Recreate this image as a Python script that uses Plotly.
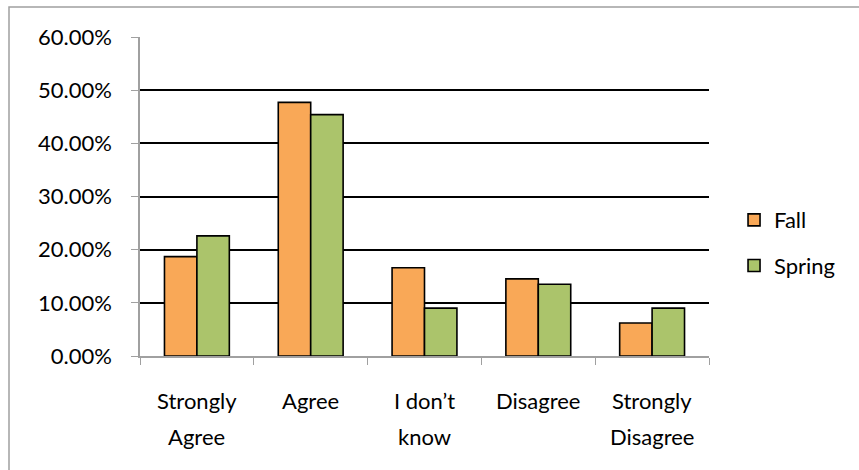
import plotly.graph_objects as go

# Survey responses, share of respondents per answer
categories = ["Strongly\nAgree", "Agree", "I don’t\nknow", "Disagree", "Strongly\nDisagree"]
fall = [0.187, 0.477, 0.166, 0.145, 0.062]
spring = [0.226, 0.454, 0.090, 0.135, 0.090]
y_ticks = [0.0, 0.1, 0.2, 0.3, 0.4, 0.5, 0.6]

FONT = "Lato"
FONT_SIZE = 22
FALL_COLOR = "#F9A857"
SPRING_COLOR = "#ABC46B"

cat_keys = [c.replace("\n", " ") for c in categories]

fig = go.Figure()
fig.add_trace(go.Bar(
    x=cat_keys, y=fall, name="Fall", legendgroup="fall",
    marker=dict(color=FALL_COLOR, line=dict(color="black", width=1.6)),
))
fig.add_trace(go.Bar(
    x=cat_keys, y=spring, name="Spring", legendgroup="spring",
    marker=dict(color=SPRING_COLOR, line=dict(color="black", width=1.6)),
))

# Category labels, one line per annotation for wider line spacing
for key, label in zip(cat_keys, categories):
    for i, line in enumerate(label.split("\n")):
        fig.add_annotation(
            x=key, y=0, xref="x", yref="paper",
            text=line, showarrow=False,
            yanchor="middle", yshift=-44 - 36 * i,
            font=dict(family=FONT, size=FONT_SIZE, color="black"),
        )

# Outer chart frame
fig.add_shape(
    type="rect", xref="paper", yref="paper",
    x0=(9 - 140) / 569, x1=(880 - 140) / 569,
    y0=-(490 - 356) / 319, y1=1 + (37 - 7) / 319,
    line=dict(color="#A0A0A0", width=1.5), fillcolor="rgba(0,0,0,0)",
    layer="below",
)

fig.update_layout(
    width=859, height=470,
    margin=dict(l=140, r=150, t=37, b=114),
    paper_bgcolor="white", plot_bgcolor="white",
    barmode="group", bargap=0.43, bargroupgap=0.0,
    font=dict(family=FONT, size=FONT_SIZE, color="black"),
    legend=dict(
        x=1.044, y=0.492, xanchor="left", yanchor="top",
        font=dict(family=FONT, size=FONT_SIZE, color="black"),
        tracegroupgap=14, bgcolor="rgba(0,0,0,0)",
    ),
    xaxis=dict(
        type="category", showticklabels=False,
        tickson="boundaries", ticks="outside", ticklen=7,
        tickcolor="#A0A0A0", showline=True, linecolor="#A0A0A0", linewidth=1.5,
        showgrid=False, zeroline=False,
    ),
    yaxis=dict(
        range=[0, 0.6], tickvals=y_ticks, tickformat=".2%",
        ticks="outside", ticklen=7, tickcolor="#A0A0A0",
        showline=True, linecolor="#A0A0A0", linewidth=1.5,
        showgrid=True, gridcolor="black", gridwidth=1.5,
        zeroline=False, ticklabelstandoff=15,
        tickfont=dict(family=FONT, size=FONT_SIZE, color="black"),
    ),
)

fig.write_html("out.html")
